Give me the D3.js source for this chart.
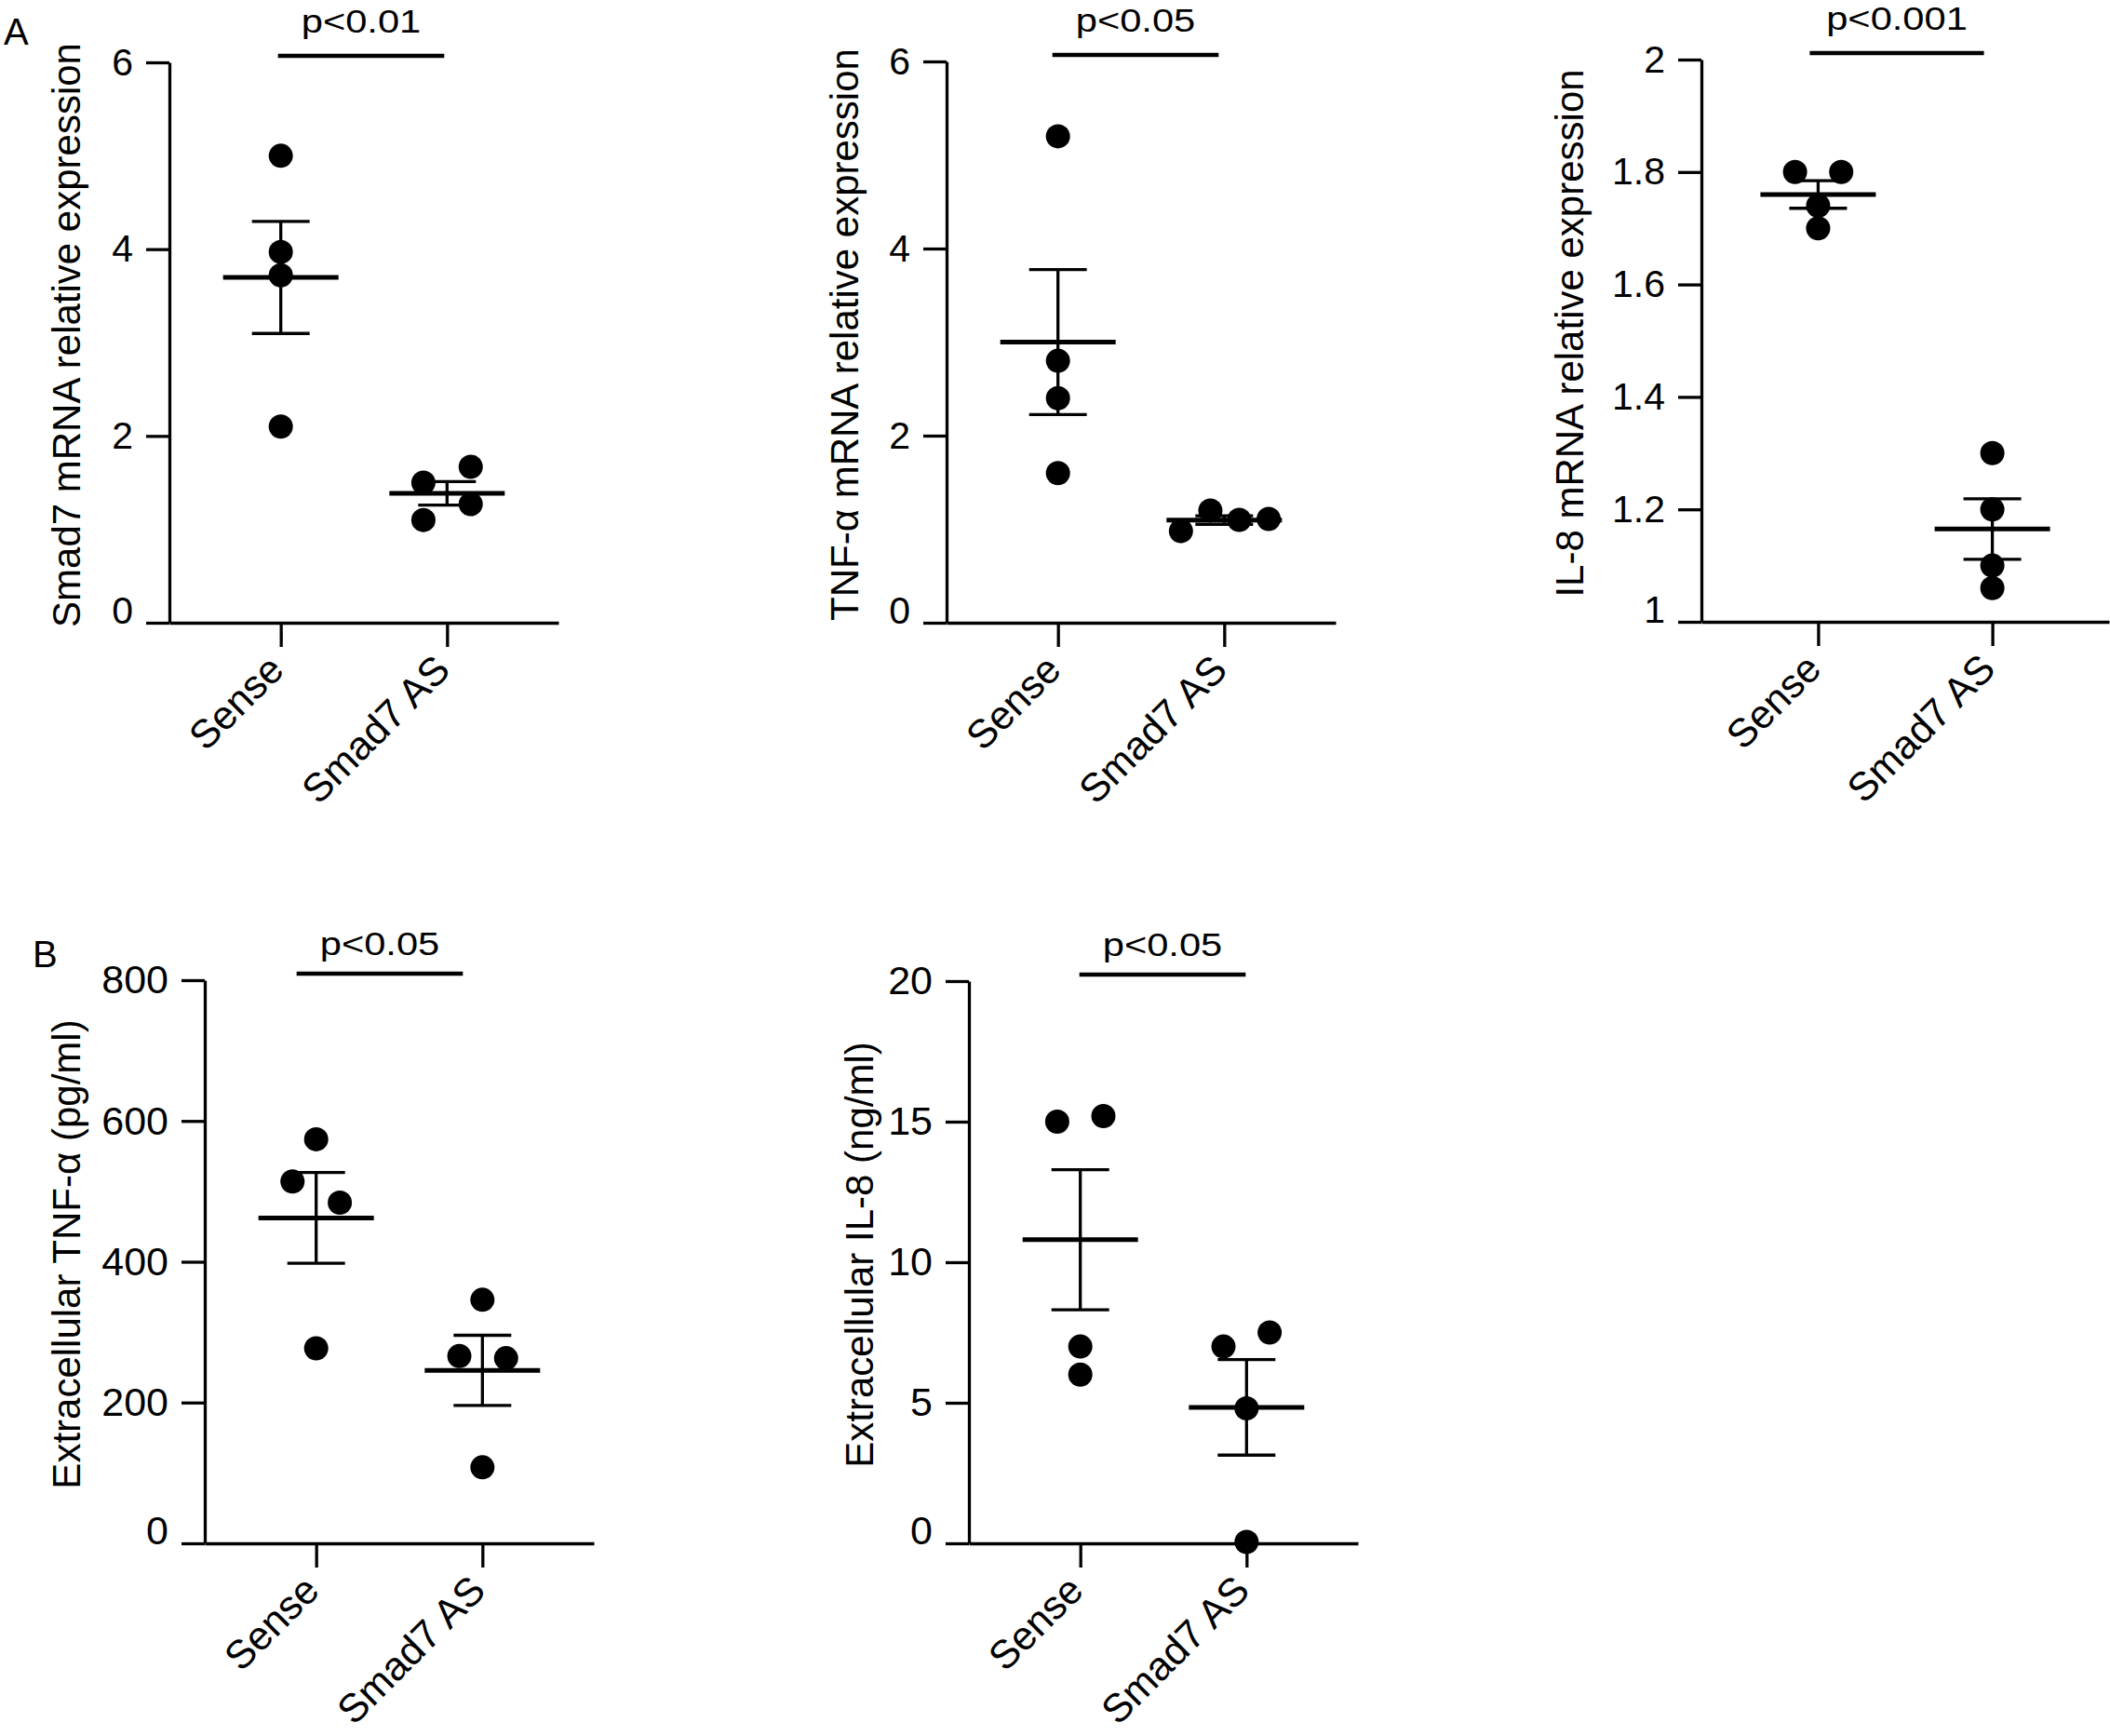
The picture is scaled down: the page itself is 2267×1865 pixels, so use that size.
<!DOCTYPE html>
<html lang="en">

<head>
    <meta charset="UTF-8">
    <title>Smad7 antisense - scatter plots</title>
    <script src="https://cdn.jsdelivr.net/npm/d3@7"></script>
</head>

<body>
    <script>
        const groups = ["Sense", "Smad7 AS"];

        // panel A: mRNA relative expression (4 replicates per group)
        const smad7Sense = [5.0, 3.97, 3.72, 2.1];
        const smad7AS = [1.67, 1.5, 1.27, 1.1];
        const tnfMrnaSense = [5.2, 2.8, 2.4, 1.6];
        const tnfMrnaAS = [0.98, 1.2, 1.1, 1.11];
        const il8MrnaSense = [1.8, 1.8, 1.74, 1.7];
        const il8MrnaAS = [1.3, 1.2, 1.1, 1.06];

        // panel B: extracellular protein
        const tnfProtSense = [574, 514, 484, 277];
        const tnfProtAS = [346, 266, 263, 108];
        const il8ProtSense = [15.0, 15.2, 7.0, 6.0];
        const il8ProtAS = [7.0, 7.5, 4.8, 0.05];

        // side-by-side slot of each dot (-1..1 of the mean bar half width)
        const smad7SenseSlot = [0, 0, 0, 0];
        const smad7ASSlot = [0.41, -0.41, 0.41, -0.41];
        const tnfMrnaSenseSlot = [0, 0, 0, 0];
        const tnfMrnaASSlot = [-0.75, -0.24, 0.26, 0.77];
        const il8MrnaSenseSlot = [-0.4, 0.4, 0, 0];
        const il8MrnaASSlot = [0, 0, 0, 0];
        const tnfProtSenseSlot = [0, -0.41, 0.41, 0];
        const tnfProtASSlot = [0, -0.4, 0.41, 0];
        const il8ProtSenseSlot = [-0.4, 0.4, 0, 0];
        const il8ProtASSlot = [-0.4, 0.4, 0, 0];

        // tick labels
        const ticksMrna = [0, 2, 4, 6];
        const ticksIl8Mrna = [1, 1.2, 1.4, 1.6, 1.8, 2];
        const ticksTnfProt = [0, 200, 400, 600, 800];
        const ticksIl8Prot = [0, 5, 10, 15, 20];

        const yTitles = ["Smad7 mRNA relative expression", "TNF-α mRNA relative expression",
            "IL-8 mRNA relative expression", "Extracellular TNF-α (pg/ml)", "Extracellular IL-8 (ng/ml)"];
        const pLabels = ["p<0.01", "p<0.05", "p<0.001", "p<0.05", "p<0.05"];

        const panels = [
            { x0: 182, top: 67, bottom: 669, w: 418, ticks: ticksMrna, vals: [smad7Sense, smad7AS], slots: [smad7SenseSlot, smad7ASSlot], titleX: 86, pShift: -3, tickFont: 41, pGap: 25 },
            { x0: 1017, top: 66, bottom: 669, w: 418, ticks: ticksMrna, vals: [tnfMrnaSense, tnfMrnaAS], slots: [tnfMrnaSenseSlot, tnfMrnaASSlot], titleX: 922, pShift: -6, tickFont: 41, pGap: 25 },
            { x0: 1828, top: 64, bottom: 668, w: 438, ticks: ticksIl8Mrna, vals: [il8MrnaSense, il8MrnaAS], slots: [il8MrnaSenseSlot, il8MrnaASSlot], titleX: 1701, pShift: -9, tickFont: 41, pGap: 25 },
            { x0: 220, top: 1053, bottom: 1658, w: 418, ticks: ticksTnfProt, vals: [tnfProtSense, tnfProtAS], slots: [tnfProtSenseSlot, tnfProtASSlot], titleX: 86, pShift: -21, tickFont: 43, pGap: 20 },
            { x0: 1041, top: 1054, bottom: 1658, w: 418, ticks: ticksIl8Prot, vals: [il8ProtSense, il8ProtAS], slots: [il8ProtSenseSlot, il8ProtASSlot], titleX: 938, pShift: -1, tickFont: 43, pGap: 20 }
        ];

        const width = 2267, height = 1865;
        const font = '"Liberation Sans", Arial, sans-serif';
        const wide = 1.19; // the p labels are set wider than plain Arial
        const svg = d3.select("body").append("svg").attr("width", width).attr("height", height)
            .style("background", "#fff")
            .style("font-family", font);

        svg.append("text").attr("x", 4).attr("y", 48).attr("font-size", 40).text("A");
        svg.append("text").attr("x", 35).attr("y", 1039).attr("font-size", 40).text("B");

        panels.forEach((p, i) => {
            const y = d3.scaleLinear().domain(d3.extent(p.ticks)).range([p.bottom, p.top]);
            const x = d3.scalePoint().domain(groups).range([p.x0, p.x0 + p.w]).padding(0.67);
            const half = 62;
            const slot = d3.scaleLinear().domain([-1, 1]).range([-half, half]);
            const g = svg.append("g");

            // y axis
            const ya = g.append("g")
                .attr("transform", `translate(${p.x0},0)`)
                .call(d3.axisLeft(y).tickValues(p.ticks).tickFormat(d => String(d))
                    .tickSize(25).tickSizeOuter(0).tickPadding(14));
            ya.selectAll("text")
                .attr("font-size", p.tickFont).attr("font-family", font)
                .attr("dy", d => d === p.ticks[0] ? "0em" : "0.32em");

            // x axis
            const xa = g.append("g")
                .attr("transform", `translate(0,${p.bottom})`)
                .call(d3.axisBottom(x).tickSize(26).tickSizeOuter(0));
            xa.selectAll("text")
                .attr("font-size", 43).attr("font-family", font)
                .attr("x", 0).attr("y", 0).attr("dy", 0)
                .attr("text-anchor", "end")
                .attr("transform", "translate(5,53) rotate(-45)");

            g.selectAll(".domain, .tick line").attr("stroke", "#000").attr("stroke-width", 3.3);
            g.selectAll(".tick text").attr("fill", "#000");

            // y title
            g.append("text")
                .attr("transform", `translate(${p.titleX},${(p.top + p.bottom) / 2 - 8}) rotate(-90)`)
                .attr("text-anchor", "middle")
                .attr("font-size", 42)
                .text(yTitles[i]);

            // dots, mean and SEM
            groups.forEach((grp, j) => {
                const vals = p.vals[j];
                const cx = x(grp);
                const m = d3.mean(vals);
                const sem = d3.deviation(vals) / Math.sqrt(vals.length);

                g.append("g").selectAll("circle")
                    .data(vals)
                    .join("circle")
                    .attr("cx", (d, k) => cx + slot(p.slots[j][k]))
                    .attr("cy", d => y(d))
                    .attr("r", 13)
                    .attr("fill", "#000");

                g.append("line")
                    .attr("x1", cx - half).attr("x2", cx + half)
                    .attr("y1", y(m)).attr("y2", y(m))
                    .attr("stroke", "#000").attr("stroke-width", 5);
                g.append("line")
                    .attr("x1", cx).attr("x2", cx)
                    .attr("y1", y(m - sem)).attr("y2", y(m + sem))
                    .attr("stroke", "#000").attr("stroke-width", 3.3);
                [m - sem, m + sem].forEach(v => {
                    g.append("line")
                        .attr("x1", cx - half / 2).attr("x2", cx + half / 2)
                        .attr("y1", y(v)).attr("y2", y(v))
                        .attr("stroke", "#000").attr("stroke-width", 3.3);
                });
            });

            // significance bar
            const barY = p.top - 7;
            const bx1 = x(groups[0]) + p.pShift, bx2 = x(groups[1]) + p.pShift;
            g.append("line")
                .attr("x1", bx1).attr("x2", bx2)
                .attr("y1", barY).attr("y2", barY)
                .attr("stroke", "#000").attr("stroke-width", 4.5);
            g.append("text")
                .attr("transform", `translate(${(bx1 + bx2) / 2},${barY - p.pGap}) scale(${wide},1)`)
                .attr("text-anchor", "middle")
                .attr("font-size", 35)
                .text(pLabels[i]);
        });
    </script>
    <style>
        * {
            margin: 0;
            padding: 0;
        }
    </style>
</body>

</html>
